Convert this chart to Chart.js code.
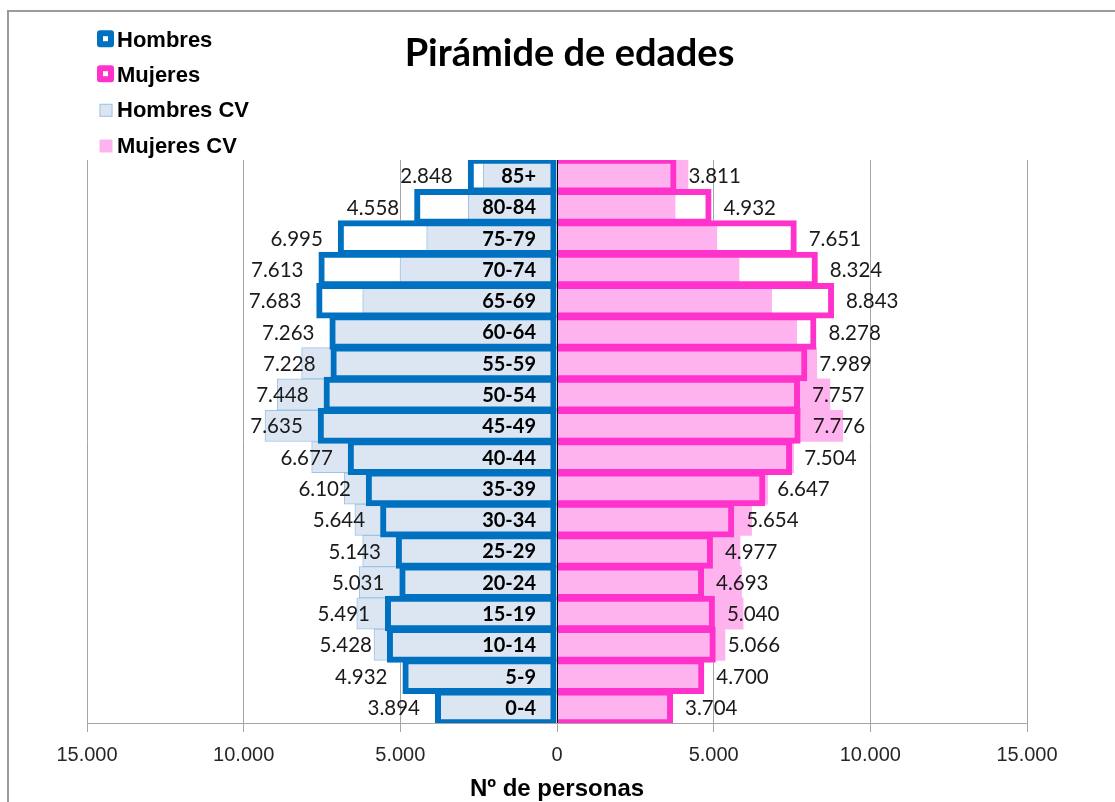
<!DOCTYPE html>
<html>
<head>
<meta charset="utf-8">
<script src="https://cdn.jsdelivr.net/npm/chart.js@4.4.1/dist/chart.umd.min.js"></script>
<style>
  html, body { margin: 0; padding: 0; background: #ffffff; }
  #wrap { position: relative; width: 1115px; height: 802px; }
  canvas { display: block; }
</style>
</head>
<body>
<div id="wrap"><canvas id="c" width="1115" height="802"></canvas></div>
<script>
// ---- Data ----
const ageGroups = ['85+','80-84','75-79','70-74','65-69','60-64','55-59','50-54','45-49','40-44','35-39','30-34','25-29','20-24','15-19','10-14','5-9','0-4'];
const hombres   = [2848,4558,6995,7613,7683,7263,7228,7448,7635,6677,6102,5644,5143,5031,5491,5428,4932,3894];
const mujeres   = [3811,4932,7651,8324,8843,8278,7989,7757,7776,7504,6647,5654,4977,4693,5040,5066,4700,3704];
const hombresCV = [2350,2830,4160,5010,6200,7200,8150,8930,9320,7830,6790,6450,6200,6310,6390,5840,4850,3800];
const mujeresCV = [4180,3770,5100,5810,6850,7650,8290,8710,9120,7550,6720,6210,5840,5890,5940,5360,4650,3650];
const xTickValues = [-15000,-10000,-5000,0,5000,10000,15000];

const chartTitle = 'Pirámide de edades';
const axisTitle = 'Nº de personas';

// ---- Styles ----
const BLUE = '#0070C0';
const PINK = '#FF33CC';
const BLUE_CV = '#DCE6F2';
const BLUE_CV_BORDER = '#9DC3E6';
const PINK_CV = '#FFB3EE';
const CALIBRI = 'Lato, "Open Sans", sans-serif';
const ARIAL = '"Liberation Sans", Arial, sans-serif';

const fmt = v => String(Math.abs(v)).replace(/\B(?=(\d{3})+(?!\d))/g, '.');
const neg = arr => arr.map(v => -v);

const OUTLINE_BP = 1.14;

const datasets = [
  // top layer: thick outlines
  { label: 'Hombres', data: neg(hombres), backgroundColor: 'rgba(0,0,0,0)', borderColor: BLUE, borderWidth: 6,
    borderSkipped: false, barPercentage: OUTLINE_BP, categoryPercentage: 1, order: 0, clip: 0 },
  { label: 'Mujeres', data: mujeres, backgroundColor: 'rgba(0,0,0,0)', borderColor: PINK, borderWidth: 6,
    borderSkipped: 'start', barPercentage: OUTLINE_BP, categoryPercentage: 1, order: 0, clip: 0 },
  // middle layer: CV bars
  { label: 'Hombres CV', data: neg(hombresCV), backgroundColor: BLUE_CV, borderColor: BLUE_CV_BORDER, borderWidth: 1,
    borderSkipped: 'start', barPercentage: 1, categoryPercentage: 1, order: 1, clip: 0 },
  { label: 'Mujeres CV', data: mujeresCV, backgroundColor: PINK_CV, borderColor: PINK_CV, borderWidth: 0,
    borderSkipped: 'start', barPercentage: 1, categoryPercentage: 1, order: 1, clip: 0 },
  // bottom layer: white fill of outlined bars
  { label: 'Hombres fondo', data: neg(hombres), backgroundColor: '#ffffff', borderWidth: 0,
    barPercentage: OUTLINE_BP, categoryPercentage: 1, order: 2, clip: 0 },
  { label: 'Mujeres fondo', data: mujeres, backgroundColor: '#ffffff', borderWidth: 0,
    barPercentage: OUTLINE_BP, categoryPercentage: 1, order: 2, clip: 0 }
];

const legendSpec = [
  { idx: 0, textBase: 46.7, kind: 'outline' },
  { idx: 1, textBase: 81.7, kind: 'outline' },
  { idx: 2, textBase: 117.3, kind: 'fill' },
  { idx: 3, textBase: 153.0, kind: 'fill' }
];

const pyramidPlugin = {
  id: 'pyramid',
  beforeDraw(chart) {
    const ctx = chart.ctx;
    ctx.save();
    ctx.fillStyle = '#ffffff';
    ctx.fillRect(0, 0, chart.width, chart.height);
    ctx.fillStyle = '#9a9a9a';
    ctx.fillRect(7, 10, 2, chart.height - 10);
    ctx.fillRect(7, 10, chart.width - 7, 2);
    ctx.restore();
  },
  afterDatasetsDraw(chart) {
    const { ctx, scales: { x, y }, chartArea } = chart;
    ctx.save();
    // vertical axis line at 0
    const x0 = x.getPixelForValue(0);
    ctx.strokeStyle = '#000000';
    ctx.lineWidth = 1;
    ctx.beginPath();
    ctx.moveTo(Math.round(x0) + 0.5, chartArea.top);
    ctx.lineTo(Math.round(x0) + 0.5, chartArea.bottom);
    ctx.stroke();

    // category labels
    ctx.fillStyle = '#000000';
    ctx.font = 'bold 20px ' + CALIBRI;
    ctx.textAlign = 'right';
    ctx.textBaseline = 'middle';
    ageGroups.forEach((g, i) => {
      ctx.fillText(g, x0 - 21, y.getPixelForValue(i) + 1);
    });

    // value labels
    ctx.fillStyle = '#1a1a1a';
    ctx.font = '20.5px ' + CALIBRI;
    hombres.forEach((v, i) => {
      ctx.textAlign = 'right';
      ctx.fillText(fmt(v), x.getPixelForValue(-v) - 15, y.getPixelForValue(i) + 1);
    });
    mujeres.forEach((v, i) => {
      ctx.textAlign = 'left';
      ctx.fillText(fmt(v), x.getPixelForValue(v) + 12, y.getPixelForValue(i) + 1);
    });
    ctx.restore();
  },
  afterDraw(chart) {
    const ctx = chart.ctx;
    ctx.save();
    // title
    ctx.fillStyle = '#000000';
    ctx.font = 'bold 38px ' + CALIBRI;
    ctx.textAlign = 'center';
    ctx.textBaseline = 'alphabetic';
    ctx.fillText(chartTitle, 569.5, 66);

    // legend
    ctx.font = 'bold 22px ' + ARIAL;
    ctx.textAlign = 'left';
    legendSpec.forEach(item => {
      const ds = chart.data.datasets[item.idx];
      const base = item.textBase;
      if (item.kind === 'outline') {
        const color = ds.borderColor;
        const bx = 97, by = base - 16.5, s = 17;
        ctx.fillStyle = color;
        ctx.beginPath();
        ctx.roundRect(bx, by, s, s, 3);
        ctx.fill();
        ctx.fillStyle = '#ffffff';
        ctx.fillRect(bx + 6, by + 6, s - 12, s - 12);
      } else {
        const bx = 99.5, by = base - 13.5, s = 13;
        ctx.fillStyle = ds.backgroundColor;
        ctx.fillRect(bx, by, s, s);
        if (ds.borderWidth) {
          ctx.strokeStyle = ds.borderColor;
          ctx.lineWidth = 1;
          ctx.strokeRect(bx + 0.5, by + 0.5, s - 1, s - 1);
        }
      }
      ctx.fillStyle = '#000000';
      ctx.fillText(ds.label, 117, base);
    });
    ctx.restore();
  }
};

new Chart(document.getElementById('c'), {
  type: 'bar',
  data: { labels: ageGroups, datasets },
  options: {
    indexAxis: 'y',
    responsive: false,
    animation: false,
    devicePixelRatio: 1,
    datasets: { bar: { grouped: false } },
    layout: { padding: { left: 87, right: 88, top: 160, bottom: 0 } },
    plugins: {
      legend: { display: false },
      title: { display: false },
      tooltip: { enabled: false }
    },
    scales: {
      x: {
        type: 'linear',
        min: -15000,
        max: 15000,
        afterBuildTicks: s => { s.ticks = xTickValues.map(v => ({ value: v })); },
        afterFit: s => { s.height = 79; },
        grid: { color: '#a6a6a6', lineWidth: 1, tickLength: 9, drawTicks: true },
        border: { color: '#a6a6a6', width: 1 },
        ticks: {
          callback: v => fmt(v),
          font: { family: ARIAL, size: 20 },
          color: '#262626',
          padding: 11,
          maxRotation: 0,
          autoSkip: false
        },
        title: {
          display: true,
          text: axisTitle,
          font: { family: ARIAL, size: 24, weight: 'bold', lineHeight: 1 },
          color: '#000000',
          padding: { top: 0, bottom: 1 }
        }
      },
      y: {
        type: 'category',
        display: false,
        offset: true
      }
    }
  },
  plugins: [pyramidPlugin]
});
</script>
</body>
</html>
